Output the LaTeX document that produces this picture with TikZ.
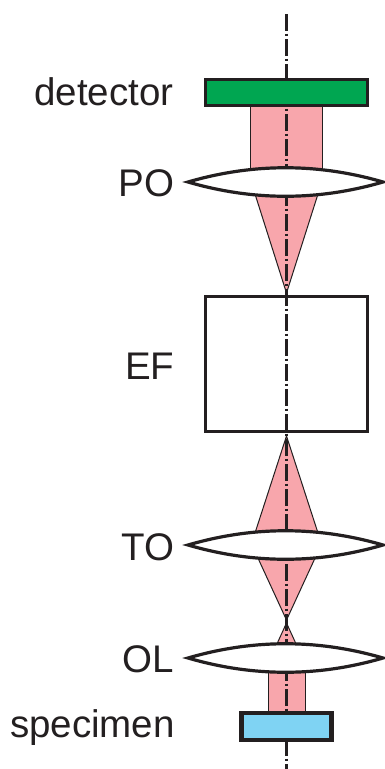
\documentclass[tikz,border=0pt]{standalone}
\usepackage{fontspec}
\setmainfont{Liberation Sans}
\definecolor{beam}{RGB}{248,166,172}
\definecolor{detgreen}{RGB}{0,166,81}
\definecolor{specblue}{RGB}{127,211,243}
\definecolor{ink}{RGB}{35,31,32}
\tikzset{
  lbl/.style={anchor=base east,font=\fontsize{38.5}{40}\selectfont,text=ink,inner sep=0pt},
  beamfill/.style={fill=beam,draw=ink,line width=1pt,line join=round},
  axisline/.style={draw=ink,line width=3.8pt,dash pattern=on 16.5pt off 3pt on 2.5pt off 3pt},
  lensline/.style={draw=ink,fill=white,line width=3.2pt,line join=miter},
  boxnode/.style={draw=ink,inner sep=0pt,outer sep=0pt,minimum width=#1,anchor=north west}
}
\newcommand{\lens}[1]{%
  \path[lensline] (188,#1) .. controls (253,#1-19) and (318,#1-19) .. (383,#1)
     .. controls (318,#1+19) and (253,#1+19) .. (188,#1) -- cycle;}
\begin{document}
\begin{tikzpicture}[x=1pt,y=-1pt]
\useasboundingbox (0,0) rectangle (384,769);
% beams
\path[beamfill] (250,106) rectangle (322.7,172);
\path[beamfill] (255,194) -- (318,194) -- (286.5,293) -- cycle;
\path[beamfill] (286.5,436) -- (318,533) -- (255,533) -- cycle;
\path[beamfill] (257,556) -- (316,556) -- (286.5,620) -- cycle;
\path[beamfill] (286.5,623) -- (297,646) -- (276,646) -- cycle;
\path[beamfill] (268,670) rectangle (305,712);
% axis
\coordinate (axtop) at (286.5,14);
\coordinate (axbot) at (286.5,769);
\draw[axisline] (axtop) -- (axbot);
% lenses
\lens{182}
\lens{545}
\lens{658}
% boxes
\node[boxnode=162pt,minimum height=25.5pt,fill=detgreen,line width=3pt] (detector) at (205.5,79.5) {};
\node[boxnode=162pt,minimum height=135pt,line width=3pt] (ef) at (205.5,296.5) {};
\node[boxnode=90pt,minimum height=27pt,fill=specblue,line width=4.6pt] (specimen) at (241.5,713) {};
% labels
\node[lbl] (tdet) at (173.5,105) {detector};
\node[lbl] (tpo) at (174.5,196) {PO};
\node[lbl] (tef) at (174.5,379) {EF};
\node[lbl] (tto) at (174.5,560) {TO};
\node[lbl] (tol) at (174.5,672) {OL};
\node[lbl] (tspec) at (175,737) {specimen};
\end{tikzpicture}
\end{document}
